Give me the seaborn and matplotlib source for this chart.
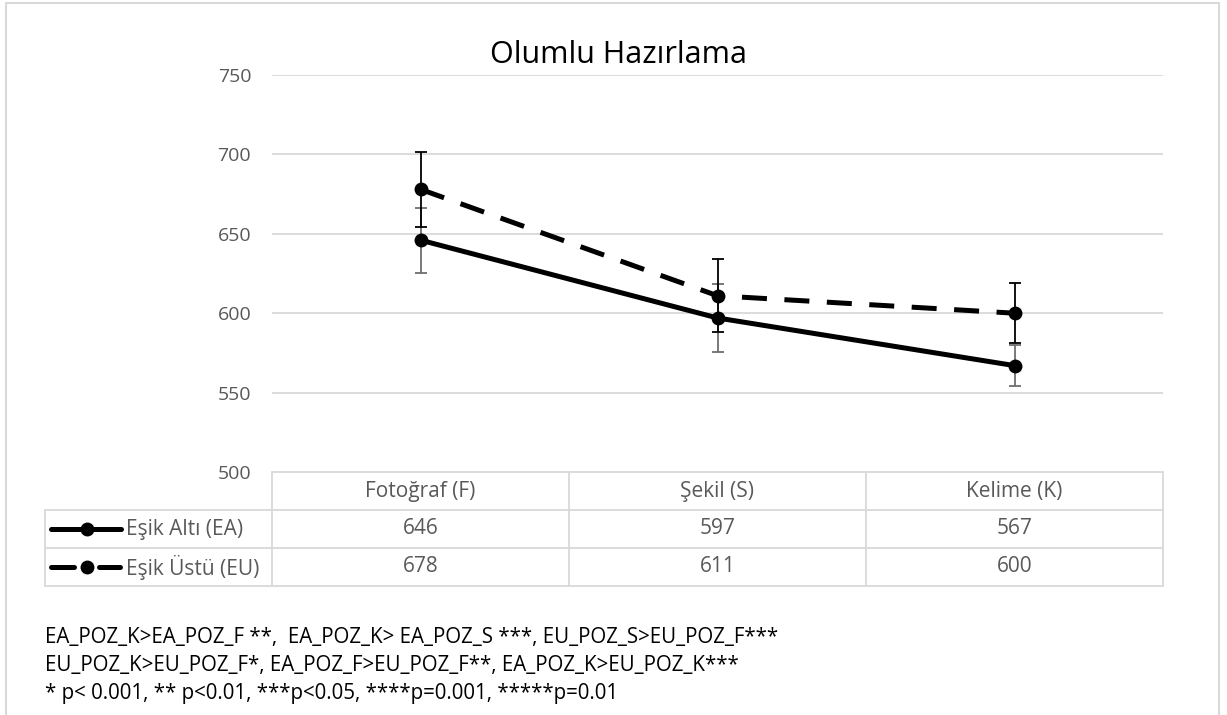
import matplotlib
matplotlib.use("Agg")
import matplotlib.pyplot as plt
import seaborn as sns
import pandas as pd
import numpy as np

# ---- data ----
categories = ["Fotoğraf (F)", "Şekil (S)", "Kelime (K)"]
series_names = ["Eşik Altı (EA)", "Eşik Üstü (EU)"]
ea_values = [646, 597, 567]
eu_values = [678, 611, 600]
ea_errors = [20.5, 21.5, 12.7]
eu_errors = [23.5, 23.0, 19.0]
yticks = [500, 550, 600, 650, 700, 750]
title = "Olumlu Hazırlama"
notes = [
    "EA_POZ_K>EA_POZ_F **,  EA_POZ_K> EA_POZ_S ***, EU_POZ_S>EU_POZ_F***",
    "EU_POZ_K>EU_POZ_F*, EA_POZ_F>EU_POZ_F**, EA_POZ_K>EU_POZ_K***",
    "* p< 0.001, ** p<0.01, ***p<0.05, ****p=0.001, *****p=0.01",
]

sns.set_theme(style="white")
plt.rcParams["font.family"] = ["Open Sans", "DejaVu Sans"]

W, H, DPI = 1227, 715, 100
fig = plt.figure(figsize=(W / DPI, H / DPI), dpi=DPI)
fig.patch.set_facecolor("white")

# overlay in pixel coordinates for frame, title, table and notes
ov = fig.add_axes([0, 0, 1, 1], zorder=0)
ov.set_xlim(0, W)
ov.set_ylim(H, 0)
ov.axis("off")

L, R, T, B = 272, 1163, 75, 472
ax = fig.add_axes([L / W, 1 - B / H, (R - L) / W, (B - T) / H], zorder=2)
ax.patch.set_alpha(0)

df = pd.DataFrame({
    "x": list(range(len(categories))) * 2,
    "value": ea_values + eu_values,
    "series": [series_names[0]] * 3 + [series_names[1]] * 3,
})

line_lw = 3.6
dash = (5, 3.5)
sns.lineplot(data=df, x="x", y="value", hue="series", style="series",
             palette=["black", "black"], dashes=["", dash], markers=["o", "o"],
             markersize=10, linewidth=line_lw, markeredgewidth=0,
             legend=False, ax=ax, zorder=3)

xs = np.arange(len(categories))
ax.errorbar(xs, ea_values, yerr=ea_errors, fmt="none", ecolor="#6e6e6e",
            elinewidth=1.3, capsize=4.3, capthick=1.3, zorder=2)
ax.errorbar(xs, eu_values, yerr=eu_errors, fmt="none", ecolor="black",
            elinewidth=1.3, capsize=4.3, capthick=1.3, zorder=2)

ax.set_xlim(-0.5, len(categories) - 0.5)
ax.set_ylim(yticks[0], yticks[-1])
ax.set_yticks(yticks)
ax.set_yticklabels([str(v) for v in yticks], fontsize=14, color="#595959")
ax.set_xticks([])
ax.set_xlabel("")
ax.set_ylabel("")
ax.tick_params(axis="y", length=0, pad=15)
for s in ax.spines.values():
    s.set_visible(False)
for v in yticks[1:]:
    ax.axhline(v, color="#d9d9d9", lw=1.3, zorder=0)

ov.text(618, 55, title, ha="center", va="center", fontsize=22, color="black")

# ---- data table ----
grid_c = "#d9d9d9"
row_y = [472, 510, 548, 586]
col_x = [L + (R - L) * i / len(categories) for i in range(len(categories) + 1)]
leg_left = 45
ov.plot([L, R], [row_y[0], row_y[0]], color=grid_c, lw=1.3)
for y in row_y[1:]:
    ov.plot([leg_left, R], [y, y], color=grid_c, lw=1.3)
for x in col_x:
    ov.plot([x, x], [row_y[0], row_y[-1]], color=grid_c, lw=1.3)
ov.plot([leg_left, leg_left], [row_y[1], row_y[-1]], color=grid_c, lw=1.3)

tc = "#595959"
fs_tab = 15
for i, cat in enumerate(categories):
    cx = (col_x[i] + col_x[i + 1]) / 2
    ov.text(cx, (row_y[0] + row_y[1]) / 2, cat, ha="center", va="center",
            fontsize=fs_tab, color=tc)
    ov.text(cx, (row_y[1] + row_y[2]) / 2, str(ea_values[i]), ha="center",
            va="center", fontsize=fs_tab, color=tc)
    ov.text(cx, (row_y[2] + row_y[3]) / 2, str(eu_values[i]), ha="center",
            va="center", fontsize=fs_tab, color=tc)

# legend keys inside the table
for r, name in enumerate(series_names):
    yc = (row_y[r + 1] + row_y[r + 2]) / 2
    if r == 0:
        segs = [(51, 121)]
    else:
        segs = [(51, 74), (99, 120)]
    for x0, x1 in segs:
        ov.plot([x0, x1], [yc, yc], color="black", lw=line_lw,
                solid_capstyle="round")
    ov.plot([87], [yc], marker="o", color="black", markersize=10,
            markeredgewidth=0)
    ov.text(126, yc, name, ha="left", va="center", fontsize=fs_tab, color=tc)

# ---- notes ----
for j, line in enumerate(notes):
    ov.text(45, 637 + j * 28.5, line, ha="left", va="center", fontsize=14.8,
            color="black")

# outer frame
ov.plot([6, 6, 1219, 1219], [H + 5, 3, 3, H + 5], color="#d9d9d9", lw=1.5)

fig.savefig("out.png", dpi=DPI, facecolor="white")
